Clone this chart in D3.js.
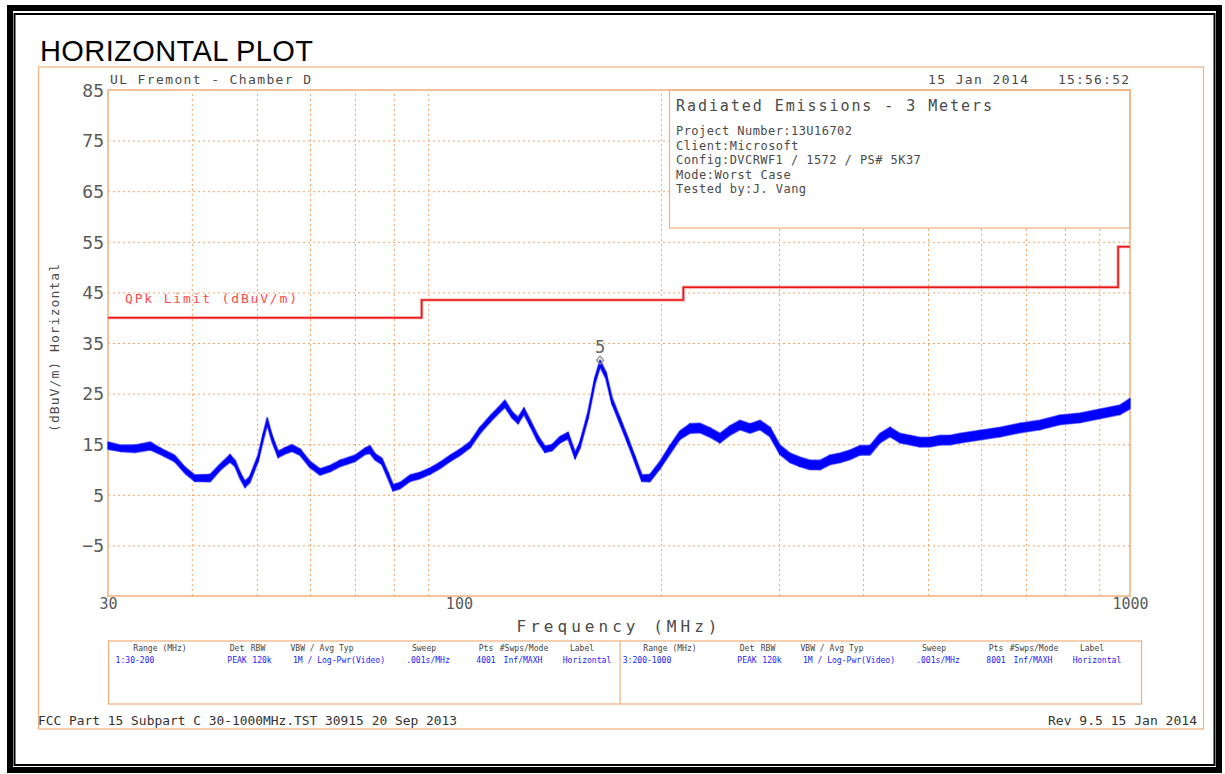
<!DOCTYPE html>
<html lang="en">
<head>
<meta charset="UTF-8">
<title>Horizontal Plot</title>
<script src="https://d3js.org/d3.v7.min.js"></script>
<style>
    body { margin: 0; background: #fff; }
    svg { display: block; }
    .vec { font-family: "DejaVu Sans Mono", monospace; }
</style>
</head>
<body>
<svg width="1225" height="774"></svg>

<script>
    // sweep trace (MHz / dBuV/m, min and max of the noise band)
    var traceFreq = [30.0, 31.3, 32.9, 34.7, 35.9, 37.7, 39.1, 40.4, 42.6, 44.1, 45.6, 46.4, 47.2, 48.0, 48.8,
        50.2, 51.1, 51.8, 52.7, 53.8, 55.1, 56.4, 58.0, 60.0, 62.1, 64.3, 66.5, 70.0, 72.5, 73.7, 75.0,
        76.8, 78.4, 79.8, 81.7, 84.6, 87.5, 90.6, 93.7, 97.0, 100.4, 103.9, 107.5, 111.3, 114.4, 117.1,
        120.0, 122.5, 125.0, 127.6, 131.2, 134.4, 137.6, 141.5, 145.4, 149.0, 151.5, 155.7, 159.5, 162.3,
        165.6, 169.1, 173.8, 178.6, 183.0, 187.4, 192.6, 199.4, 206.3, 213.5, 221.0, 228.7, 236.7, 244.9,
        253.5, 262.3, 271.5, 281.0, 290.8, 300.9, 311.4, 322.3, 333.5, 345.2, 357.3, 369.7, 382.6, 396.0,
        409.8, 424.1, 438.9, 454.3, 470.1, 486.5, 503.5, 521.1, 539.3, 558.1, 597.7, 640.1, 685.6, 734.2,
        786.4, 842.3, 902.2, 966.2, 1000];
    var traceLow = [14.0, 13.6, 13.4, 13.9, 13.0, 11.6, 9.2, 7.7, 7.6, 9.9, 11.5, 10.6, 8.2, 6.5, 7.4,
        11.6, 15.8, 18.9, 15.4, 12.4, 13.1, 13.6, 12.8, 10.4, 8.9, 9.6, 10.6, 11.6, 13.0, 13.2, 11.9,
        11.0, 8.2, 5.8, 6.2, 7.7, 8.2, 9.1, 10.2, 11.6, 12.8, 14.3, 17.1, 19.4, 21.0, 22.3,
        20.2, 19.1, 20.9, 18.7, 15.4, 13.4, 13.7, 15.3, 16.1, 12.2, 14.2, 20.1, 26.9, 30.3,
        28.0, 23.0, 19.0, 15.1, 11.3, 7.7, 7.6, 10.2, 13.1, 16.0, 17.2, 17.3, 16.4, 15.3,
        16.8, 17.9, 17.2, 17.9, 16.5, 13.0, 11.4, 10.6, 10.0, 10.0, 11.0, 11.4, 12.0, 12.9,
        12.9, 15.3, 16.5, 15.3, 14.9, 14.5, 14.5, 14.9, 14.9, 15.3, 15.9, 16.5, 17.3, 17.9,
        18.9, 19.3, 20.1, 20.9, 22.0];
    var traceHigh = [15.4, 14.8, 14.8, 15.4, 14.2, 12.8, 10.4, 8.9, 9.0, 11.1, 12.9, 11.8, 9.4, 7.7, 8.6,
        12.8, 17.0, 20.2, 16.6, 13.6, 14.3, 14.9, 14.0, 11.6, 10.1, 10.8, 11.8, 12.8, 14.2, 14.7, 13.1,
        12.2, 9.4, 7.0, 7.4, 8.9, 9.4, 10.3, 11.4, 12.8, 14.0, 15.5, 18.3, 20.6, 22.2, 23.7,
        21.4, 20.3, 22.1, 19.9, 16.6, 14.6, 14.9, 16.5, 17.3, 13.4, 15.4, 21.3, 28.1, 31.6,
        29.2, 24.2, 20.2, 16.3, 12.5, 8.9, 9.0, 11.6, 14.7, 17.6, 19.0, 19.1, 18.2, 17.1,
        18.6, 19.7, 19.0, 19.7, 18.3, 14.8, 13.2, 12.4, 11.8, 11.8, 12.8, 13.2, 13.8, 14.7,
        14.7, 17.1, 18.3, 17.1, 16.7, 16.3, 16.3, 16.7, 16.7, 17.1, 17.7, 18.3, 19.1, 19.7,
        20.7, 21.1, 21.9, 22.7, 24.0];

    // QPk limit steps
    var limitFreq = [30, 88, 88, 216, 216, 960, 960, 1000];
    var limitDb = [40, 40, 43.5, 43.5, 46, 46, 54, 54];

    var markerFreq = [162.3];
    var markerDb = [31.6];
    var markerName = ["5"];

    var yTicks = [85, 75, 65, 55, 45, 35, 25, 15, 5, -5];
    var yGrid = [75, 65, 55, 45, 35, 25, 15, 5, -5];
    var xTickLabels = [30, 100, 1000];
    var xGrid = [40, 50, 60, 70, 80, 90, 200, 300, 400, 500, 600, 700, 800, 900];

    var infoTitle = "Radiated Emissions - 3 Meters";
    var infoLines = ["Project Number:13U16702", "Client:Microsoft", "Config:DVCRWF1 / 1572 / PS# 5K37",
        "Mode:Worst Case", "Tested by:J. Vang"];

    var tableHeader = ["Range (MHz)", "Det", "RBW", "VBW / Avg Typ", "Sweep", "Pts", "#Swps/Mode", "Label"];
    var tableRow1 = ["1:30-200", "PEAK", "120k", "1M / Log-Pwr(Video)", ".001s/MHz", "4001", "Inf/MAXH", "Horizontal"];
    var tableRow3 = ["3:200-1000", "PEAK", "120k", "1M / Log-Pwr(Video)", ".001s/MHz", "8001", "Inf/MAXH", "Horizontal"];

    var svg = d3.select("svg");
    var orange = "#f0b07c";
    var gridCol = "#f2a566";
    var ink = "#4a4a4a";

    // black double frame
    svg.append("rect").attr("x", 10).attr("y", 8).attr("width", 1209).attr("height", 762)
        .attr("fill", "none").attr("stroke", "#000").attr("stroke-width", 6);
    svg.append("rect").attr("x", 14.5).attr("y", 14).attr("width", 1200).attr("height", 751)
        .attr("fill", "none").attr("stroke", "#000").attr("stroke-width", 2);

    svg.append("text").attr("x", 40).attr("y", 61)
        .attr("font-family", "Liberation Sans, Arial, sans-serif").attr("font-size", 29)
        .attr("textLength", 273).attr("fill", "#000").text("HORIZONTAL PLOT");

    // outer orange frame
    svg.append("rect").attr("x", 38.5).attr("y", 67).attr("width", 1165).attr("height", 662)
        .attr("fill", "none").attr("stroke", orange).attr("stroke-width", 1.2);

    var x = d3.scaleLog().domain([30, 1000]).range([108, 1130]);
    var y = d3.scaleLinear().domain([-15, 85]).range([596, 90]);

    // grid
    svg.append("g").attr("transform", "translate(108,0)")
        .call(d3.axisLeft(y).tickValues(yGrid).tickSize(-1022).tickFormat(""))
        .call(function (g) {
            g.select(".domain").remove();
            g.selectAll("line").attr("stroke", gridCol).attr("stroke-dasharray", "2,3");
        });
    svg.append("g").attr("transform", "translate(0,596)")
        .call(d3.axisBottom(x).tickValues(xGrid).tickSize(-506).tickFormat(""))
        .call(function (g) {
            g.select(".domain").remove();
            g.selectAll("line").attr("stroke", gridCol).attr("stroke-dasharray", "2,3");
        });

    // info box
    svg.append("rect").attr("x", 669.5).attr("y", 90).attr("width", 460.5).attr("height", 138)
        .attr("fill", "#fff").attr("stroke", orange).attr("stroke-width", 1.2);
    svg.append("text").attr("class", "vec").attr("x", 676).attr("y", 111)
        .attr("font-size", 15).attr("textLength", 316).attr("fill", ink).text(infoTitle);
    svg.append("g").selectAll("text").data(infoLines).enter().append("text")
        .attr("class", "vec")
        .attr("x", 676)
        .attr("y", function (d, i) { return 135 + i * 14.5; })
        .attr("font-size", 12)
        .attr("textLength", function (d) { return d.length * 7.65; })
        .attr("fill", ink)
        .text(function (d) { return d; });

    // plot border
    svg.append("rect").attr("x", 108).attr("y", 90).attr("width", 1022).attr("height", 506)
        .attr("fill", "none").attr("stroke", orange).attr("stroke-width", 1.5);

    // axes labels
    svg.append("g").attr("transform", "translate(108,0)")
        .call(d3.axisLeft(y).tickValues(yTicks).tickSize(0).tickPadding(4).tickFormat(d3.format("d")))
        .call(function (g) {
            g.select(".domain").remove();
            g.selectAll("text").attr("font-family", "DejaVu Sans Mono, monospace")
                .attr("font-size", 18).attr("fill", "#5a5a5a").attr("dy", "0.35em");
        });
    svg.append("g").attr("transform", "translate(0,596)")
        .call(d3.axisBottom(x).tickValues(xTickLabels).tickSize(0).tickPadding(2).tickFormat(d3.format("d")))
        .call(function (g) {
            g.select(".domain").remove();
            g.selectAll("text").attr("font-family", "DejaVu Sans Mono, monospace")
                .attr("font-size", 15).attr("fill", "#5a5a5a");
        });

    svg.append("text").attr("class", "vec").attr("x", 617).attr("y", 632).attr("text-anchor", "middle")
        .attr("font-size", 16).attr("textLength", 201).attr("fill", ink).text("Frequency (MHz)");
    svg.append("text").attr("class", "vec").attr("transform", "translate(59,348) rotate(-90)")
        .attr("text-anchor", "middle").attr("font-size", 13).attr("textLength", 168)
        .attr("fill", ink).text("(dBuV/m) Horizontal");

    svg.append("text").attr("class", "vec").attr("x", 110).attr("y", 84)
        .attr("font-size", 13).attr("textLength", 201).attr("fill", ink).text("UL Fremont - Chamber D");
    svg.append("text").attr("class", "vec").attr("x", 928).attr("y", 84)
        .attr("font-size", 13).attr("textLength", 100).attr("fill", ink).text("15 Jan 2014");
    svg.append("text").attr("class", "vec").attr("x", 1058).attr("y", 84)
        .attr("font-size", 13).attr("textLength", 71).attr("fill", ink).text("15:56:52");

    // limit line
    var limitPts = d3.range(limitFreq.length).map(function (i) {
        return [x(limitFreq[i]), y(limitDb[i])];
    });
    svg.append("path").attr("d", d3.line()(limitPts)).attr("fill", "none")
        .attr("stroke", "#ff9a9a").attr("stroke-width", 3);
    svg.append("path").attr("d", d3.line()(limitPts)).attr("fill", "none")
        .attr("stroke", "#e81818").attr("stroke-width", 1.5);
    svg.append("text").attr("class", "vec").attr("x", 125).attr("y", 303)
        .attr("font-size", 13).attr("textLength", 172).attr("fill", "#ff4a4a").text("QPk Limit (dBuV/m)");

    // trace: light fringe, then the band, then a jagged min/max path
    var idx = d3.range(traceFreq.length);
    var band = d3.area()
        .x(function (i) { return x(traceFreq[i]); })
        .y0(function (i) { return y(traceLow[i]); })
        .y1(function (i) { return y(traceHigh[i]); });
    svg.append("path").attr("d", band(idx)).attr("fill", "#7a7aff")
        .attr("stroke", "#8c8cff").attr("stroke-width", 2.2).attr("stroke-linejoin", "round");
    svg.append("path").attr("d", band(idx)).attr("fill", "#0000ff")
        .attr("stroke", "#0000ff").attr("stroke-width", 0.6);
    var zig = d3.line()
        .x(function (d) { return x(d[0]); })
        .y(function (d) { return y(d[1]); });
    var zigPts = [];
    idx.forEach(function (i) {
        zigPts.push([traceFreq[i], i % 2 ? traceLow[i] : traceHigh[i]]);
    });
    svg.append("path").attr("d", zig(zigPts)).attr("fill", "none")
        .attr("stroke", "#0000ff").attr("stroke-width", 1.2);

    // marker 5
    markerFreq.forEach(function (f, i) {
        var mx = x(f), my = y(markerDb[i]);
        svg.append("path")
            .attr("d", "M" + mx + "," + (my - 4) + "l3.5,4l-3.5,4l-3.5,-4z")
            .attr("fill", "none").attr("stroke", "#888").attr("stroke-width", 1.2);
        svg.append("text").attr("class", "vec").attr("x", mx).attr("y", my - 7)
            .attr("text-anchor", "middle").attr("font-size", 17).attr("fill", "#666").text(markerName[i]);
    });

    // settings table
    var colX = [160, 237, 258, 322, 424, 486, 524, 582];
    var dataX = [135, 237, 262, 339, 428, 486, 523, 587];
    svg.append("rect").attr("x", 108.5).attr("y", 641).attr("width", 1033).attr("height", 63)
        .attr("fill", "none").attr("stroke", orange).attr("stroke-width", 1.2);
    svg.append("line").attr("x1", 620).attr("x2", 620).attr("y1", 641).attr("y2", 704)
        .attr("stroke", orange).attr("stroke-width", 1.2);
    [0, 510].forEach(function (off, k) {
        var row = k === 0 ? tableRow1 : tableRow3;
        svg.append("g").selectAll("text").data(tableHeader).enter().append("text")
            .attr("class", "vec")
            .attr("x", function (d, i) { return colX[i] + off; })
            .attr("y", 651).attr("text-anchor", "middle").attr("font-size", 9)
            .attr("textLength", function (d) { return d.length * 4.85; })
            .attr("lengthAdjust", "spacingAndGlyphs")
            .attr("fill", "#444").text(function (d) { return d; });
        svg.append("g").selectAll("text").data(row).enter().append("text")
            .attr("class", "vec")
            .attr("x", function (d, i) { return dataX[i] + off + (i === 0 ? 2 * k : 0); })
            .attr("y", 663).attr("text-anchor", "middle").attr("font-size", 9)
            .attr("textLength", function (d) { return d.length * 4.85; })
            .attr("lengthAdjust", "spacingAndGlyphs")
            .attr("fill", "#1a1aff").text(function (d) { return d; });
    });

    // footer
    svg.append("text").attr("class", "vec").attr("x", 38).attr("y", 725)
        .attr("font-size", 12).attr("textLength", 419).attr("lengthAdjust", "spacingAndGlyphs")
        .attr("fill", "#333").text("FCC Part 15 Subpart C 30-1000MHz.TST 30915 20 Sep 2013");
    svg.append("text").attr("class", "vec").attr("x", 1197).attr("y", 725).attr("text-anchor", "end")
        .attr("font-size", 12).attr("textLength", 149).attr("lengthAdjust", "spacingAndGlyphs")
        .attr("fill", "#333").text("Rev 9.5 15 Jan 2014");
</script>
</body>
</html>
